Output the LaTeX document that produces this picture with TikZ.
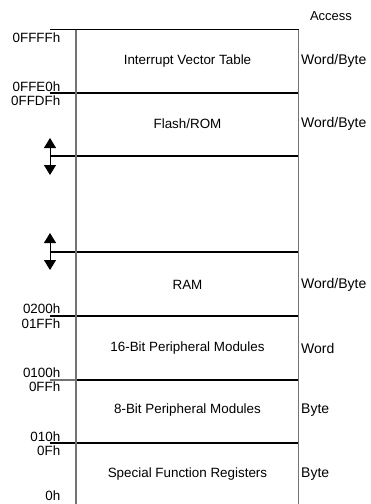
\documentclass[tikz,border=0pt]{standalone}
\usepackage{fontspec}
\setmainfont{Liberation Sans}
\usetikzlibrary{arrows.meta}

\tikzset{
  lbl/.style={inner sep=0pt, font=\fontsize{13.4}{15}\selectfont},
  addr/.style={lbl, anchor=east},
  acc/.style={lbl, anchor=west, font=\fontsize{14}{16}\selectfont},
  region/.style={lbl, anchor=center},
  boundary/.style={line width=1.1pt, black},
  frame/.style={line width=1.1pt, black!55},
  gap/.style={line width=1pt, -{Triangle[width=12pt,length=10pt]}}
}

\begin{document}
\begin{tikzpicture}[x=1pt, y=-1pt]
  \useasboundingbox (0,0) rectangle (370,504);

  % boundaries between regions
  \foreach \name/\y in {b0/29.5, b1/93, b2/156, b3/252, b4/316, b6/443}{
    \coordinate (\name s) at (50,\y);
    \coordinate (\name e) at (299,\y);
    \draw[boundary] (\name s) -- (\name e);
  }
  \coordinate (b5s) at (50,380);
  \coordinate (b5m) at (76,380);
  \coordinate (b5e) at (299,380);
  \draw[frame] (b5s) -- (b5m);
  \draw[line width=1.8pt] (b5m) -- (b5e);

  % vertical frame lines
  \coordinate (Lt) at (76,29.5);
  \coordinate (Lb) at (76,504);
  \coordinate (Rt) at (298.5,29.5);
  \coordinate (Rb) at (298.5,504);
  \draw[frame] (Lt) -- (Lb);
  \draw[frame] (Rt) -- (Rb);

  % address-range break arrows
  \coordinate (g1) at (50,156);
  \coordinate (g1u) at (50,138);
  \coordinate (g1d) at (50,175);
  \draw[gap] (g1) -- (g1u);
  \draw[gap] (g1) -- (g1d);
  \coordinate (g2) at (50,252);
  \coordinate (g2u) at (50,233);
  \coordinate (g2d) at (50,270);
  \draw[gap] (g2) -- (g2u);
  \draw[gap] (g2) -- (g2d);

  % region names
  \node[region] (ivt)  at (187.5,61)  {Interrupt Vector Table};
  \node[region] (rom)  at (187.5,124) {Flash/ROM};
  \node[region] (ram)  at (187.5,285) {RAM};
  \node[region] (p16)  at (187.5,348) {16-Bit Peripheral Modules};
  \node[region] (p8)   at (187.5,410) {8-Bit Peripheral Modules};
  \node[region] (sfr)  at (187.5,474) {Special Function Registers};

  % access widths
  \node[lbl, font=\fontsize{13}{15}\selectfont] (acchead) at (331,16) {Access};
  \node[acc] (a1) at (301,61)  {Word/Byte};
  \node[acc] (a2) at (301,124) {Word/Byte};
  \node[acc] (a3) at (301,285) {Word/Byte};
  \node[acc] (a4) at (301,348) {Word};
  \node[acc] (a5) at (301,410) {Byte};
  \node[acc] (a6) at (301,474) {Byte};

  % addresses
  \node[addr] (ad1)  at (60.5,38)  {0FFFFh};
  \node[addr] (ad2)  at (60.5,86.5)  {0FFE0h};
  \node[addr] (ad3)  at (60.5,101) {0FFDFh};
  \node[addr] (ad4)  at (60.5,309) {0200h};
  \node[addr] (ad5)  at (60.5,324) {01FFh};
  \node[addr] (ad6)  at (60.5,373) {0100h};
  \node[addr] (ad7)  at (60.5,387) {0FFh};
  \node[addr] (ad8)  at (60.5,437) {010h};
  \node[addr] (ad9)  at (60.5,451) {0Fh};
  \node[addr] (ad10) at (60.5,496) {0h};
\end{tikzpicture}
\end{document}
